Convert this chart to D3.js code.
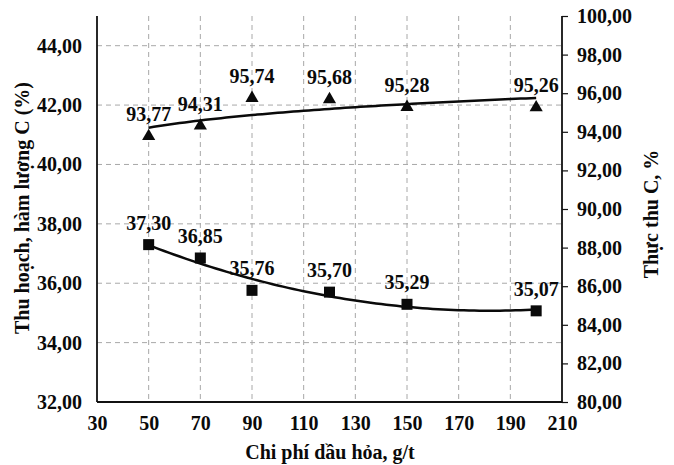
<!DOCTYPE html>
<html>
<head>
<meta charset="utf-8">
<script src="https://cdn.jsdelivr.net/npm/d3@7"></script>
<style>
body { margin: 0; background: #fff; }
text { font-family: "Liberation Serif", "Times New Roman", serif; font-weight: bold; fill: #0a0a0a; }
</style>
</head>
<body>
<svg id="chart" width="674" height="465"></svg>
<script>
// data
var doses = [50, 70, 90, 120, 150, 200];
var contentC = [37.30, 36.85, 35.76, 35.70, 35.29, 35.07];   // squares, left axis
var recoveryC = [93.77, 94.31, 95.74, 95.68, 95.28, 95.26];  // triangles, right axis
var xTicks = [30, 50, 70, 90, 110, 130, 150, 170, 190, 210];
var leftTicks = [32, 34, 36, 38, 40, 42, 44];
var rightTicks = [80, 82, 84, 86, 88, 90, 92, 94, 96, 98, 100];

var svg = d3.select("#chart");
var plotLeft = 97, plotRight = 562, plotTop = 16, plotBottom = 402;
var fontSize = "20px";

var x = d3.scaleLinear().domain([30, 210]).range([plotLeft, plotRight]);
var yL = d3.scaleLinear().domain([32, 45]).range([plotBottom, plotTop]);
var yR = d3.scaleLinear().domain([80, 100]).range([plotBottom, plotTop]);

function fmt(v) { return v.toFixed(2).replace(".", ","); }

// grid
svg.selectAll("hgrid").data(leftTicks.slice(1))
    .enter().append("line")
    .attr("x1", plotLeft).attr("x2", plotRight)
    .attr("y1", function (d) { return yL(d); })
    .attr("y2", function (d) { return yL(d); })
    .attr("stroke", "#a8a8a8").attr("stroke-width", 1).attr("stroke-dasharray", "5,4");
svg.selectAll("vgrid").data(xTicks.slice(1, -1))
    .enter().append("line")
    .attr("y1", plotTop).attr("y2", plotBottom)
    .attr("x1", function (d) { return x(d); })
    .attr("x2", function (d) { return x(d); })
    .attr("stroke", "#a8a8a8").attr("stroke-width", 1).attr("stroke-dasharray", "5,4");

// axes
var gx = svg.append("g").attr("transform", "translate(0," + plotBottom + ")")
    .call(d3.axisBottom(x).tickValues(xTicks).tickSize(0).tickPadding(14).tickFormat(d3.format("d")));
var gl = svg.append("g").attr("transform", "translate(" + plotLeft + ",0)")
    .call(d3.axisLeft(yL).tickValues(leftTicks).tickSize(0).tickPadding(15).tickFormat(fmt));
var gr = svg.append("g").attr("transform", "translate(" + plotRight + ",0)")
    .call(d3.axisRight(yR).tickValues(rightTicks).tickSize(6).tickPadding(9).tickFormat(fmt));
[gx, gl, gr].forEach(function (g) {
    g.select(".domain").attr("stroke", "#111").attr("stroke-width", 1.8);
    g.selectAll(".tick line").attr("stroke", "#111").attr("stroke-width", 1.2);
    g.selectAll(".tick text").style("font-size", fontSize).style("font-family", "Liberation Serif")
        .style("font-weight", "bold").attr("fill", "#0a0a0a");
});
gl.select(".domain").attr("d", "M0," + plotBottom + "V" + plotTop);
gr.select(".domain").attr("d", "M0," + plotBottom + "V" + plotTop);
gx.select(".domain").attr("d", "M" + plotLeft + ",0H" + plotRight);

// trend lines: quadratic fit for squares, log fit for triangles
function quadFit(xs, ys) {
    var n = xs.length, s = [0, 0, 0, 0, 0], t = [0, 0, 0];
    for (var i = 0; i < n; i++) {
        for (var k = 0; k < 5; k++) s[k] += Math.pow(xs[i], k);
        for (var k2 = 0; k2 < 3; k2++) t[k2] += ys[i] * Math.pow(xs[i], k2);
    }
    var A = [[s[0], s[1], s[2], t[0]], [s[1], s[2], s[3], t[1]], [s[2], s[3], s[4], t[2]]];
    for (var c = 0; c < 3; c++) {
        for (var r = c + 1; r < 3; r++) {
            var f = A[r][c] / A[c][c];
            for (var j = c; j < 4; j++) A[r][j] -= f * A[c][j];
        }
    }
    var b = [0, 0, 0];
    for (var r2 = 2; r2 >= 0; r2--) {
        var v = A[r2][3];
        for (var j2 = r2 + 1; j2 < 3; j2++) v -= A[r2][j2] * b[j2];
        b[r2] = v / A[r2][r2];
    }
    return function (xx) { return b[0] + b[1] * xx + b[2] * xx * xx; };
}
function logFit(xs, ys) {
    var lx = xs.map(Math.log), mx = d3.mean(lx), my = d3.mean(ys);
    var sxy = d3.sum(lx, function (d, i) { return (d - mx) * (ys[i] - my); });
    var sxx = d3.sum(lx, function (d) { return (d - mx) * (d - mx); });
    var b = sxy / sxx, a = my - b * mx;
    return function (xx) { return a + b * Math.log(xx); };
}
var qf = quadFit(doses, contentC), lf = logFit(doses, recoveryC);
var xs = d3.range(50, 200.5, 2);
svg.append("path").datum(xs)
    .attr("d", d3.line().x(function (d) { return x(d); }).y(function (d) { return yL(qf(d)); }))
    .attr("fill", "none").attr("stroke", "#0a0a0a").attr("stroke-width", 2.5);
svg.append("path").datum(xs)
    .attr("d", d3.line().x(function (d) { return x(d); }).y(function (d) { return yR(lf(d)); }))
    .attr("fill", "none").attr("stroke", "#0a0a0a").attr("stroke-width", 2.5);

// markers
svg.selectAll("sq").data(doses).enter().append("rect")
    .attr("x", function (d) { return x(d) - 5.5; })
    .attr("y", function (d, i) { return yL(contentC[i]) - 5.5; })
    .attr("width", 11).attr("height", 11).attr("fill", "#0a0a0a");
svg.selectAll("tri").data(doses).enter().append("path")
    .attr("d", d3.symbol().type(d3.symbolTriangle).size(75))
    .attr("transform", function (d, i) { return "translate(" + x(d) + "," + yR(recoveryC[i]) + ")"; })
    .attr("fill", "#0a0a0a");

// value labels
svg.selectAll("sqlab").data(doses).enter().append("text")
    .attr("x", function (d) { return x(d); })
    .attr("y", function (d, i) { return yL(contentC[i]) - 15; })
    .attr("text-anchor", "middle").style("font-size", fontSize)
    .text(function (d, i) { return fmt(contentC[i]); });
svg.selectAll("trilab").data(doses).enter().append("text")
    .attr("x", function (d) { return x(d); })
    .attr("y", function (d, i) { return yR(recoveryC[i]) - 15; })
    .attr("text-anchor", "middle").style("font-size", fontSize)
    .text(function (d, i) { return fmt(recoveryC[i]); });

// axis titles
svg.append("text").attr("x", 330).attr("y", 459).attr("text-anchor", "middle")
    .style("font-size", fontSize).text("Chi phí dầu hỏa, g/t");
svg.append("text").attr("transform", "translate(29,208) rotate(-90)").attr("text-anchor", "middle")
    .style("font-size", fontSize).text("Thu hoạch, hàm lượng C (%)");
svg.append("text").attr("transform", "translate(658,214) rotate(-90)").attr("text-anchor", "middle")
    .style("font-size", fontSize).text("Thực thu C, %");
</script>
</body>
</html>
